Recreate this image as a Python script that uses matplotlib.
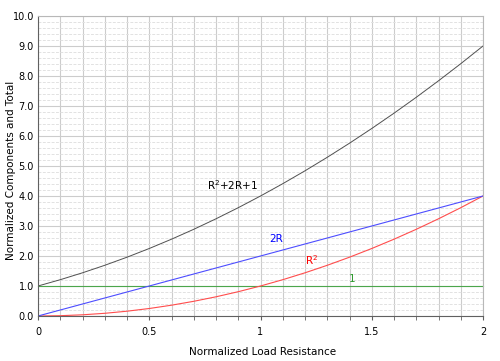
import matplotlib
matplotlib.use("Agg")
import matplotlib.pyplot as plt
from matplotlib.ticker import MultipleLocator, FixedLocator

R = [0.0, 0.1, 0.2, 0.3, 0.4, 0.5, 0.6, 0.7, 0.8, 0.9, 1.0,
     1.1, 1.2, 1.3, 1.4, 1.5, 1.6, 1.7, 1.8, 1.9, 2.0]
total = [1.0, 1.21, 1.44, 1.69, 1.96, 2.25, 2.56, 2.89, 3.24, 3.61, 4.0,
         4.41, 4.84, 5.29, 5.76, 6.25, 6.76, 7.29, 7.84, 8.41, 9.0]
two_r = [0.0, 0.2, 0.4, 0.6, 0.8, 1.0, 1.2, 1.4, 1.6, 1.8, 2.0,
         2.2, 2.4, 2.6, 2.8, 3.0, 3.2, 3.4, 3.6, 3.8, 4.0]
r_sq = [0.0, 0.01, 0.04, 0.09, 0.16, 0.25, 0.36, 0.49, 0.64, 0.81, 1.0,
        1.21, 1.44, 1.69, 1.96, 2.25, 2.56, 2.89, 3.24, 3.61, 4.0]
one = [1.0] * len(R)

x_ticks = [0, 0.5, 1, 1.5, 2]
x_tick_labels = ["0", "0.5", "1", "1.5", "2"]
y_ticks = [0, 1, 2, 3, 4, 5, 6, 7, 8, 9, 10]
y_tick_labels = ["0.0", "1.0", "2.0", "3.0", "4.0", "5.0", "6.0", "7.0", "8.0", "9.0", "10.0"]

plt.rcParams['font.family'] = ['DejaVu Sans']
fig = plt.figure(figsize=(5.0, 3.61), dpi=100)
ax = fig.add_axes([38/500, 45/361, 445/500, 300/361])

ax.set_xlim(0, 2)
ax.set_ylim(0, 10)

ax.xaxis.set_major_locator(FixedLocator(x_ticks))
ax.set_xticklabels(x_tick_labels)
ax.yaxis.set_major_locator(FixedLocator(y_ticks))
ax.set_yticklabels(y_tick_labels)
ax.xaxis.set_minor_locator(MultipleLocator(0.1))
ax.yaxis.set_minor_locator(MultipleLocator(0.2))

ax.grid(which='major', color='#cccccc', linewidth=0.8, linestyle='-')
ax.xaxis.grid(which='minor', color='#cccccc', linewidth=0.8, linestyle='-')
ax.yaxis.grid(which='minor', color='#e2e2e2', linewidth=0.7, linestyle=(0, (3, 1.5)))
ax.set_axisbelow(True)

ax.tick_params(axis='x', which='both', direction='out', length=3, color='#606060',
               labelsize=7, pad=5)
ax.tick_params(axis='y', which='both', length=0, labelsize=7, pad=3)

for s in ['top', 'right']:
    ax.spines[s].set_color('#b8b8b8')
for s in ['left', 'bottom']:
    ax.spines[s].set_color('#606060')

ax.plot(R, one, color='#4ca64c', linewidth=0.8, clip_on=False)
ax.plot(R, r_sq, color='#ff4d4d', linewidth=0.8)
ax.plot(R, two_r, color='#4d4dff', linewidth=0.8)
ax.plot(R, total, color='#505050', linewidth=0.7)

ax.text(0.76, 4.37, "R$^{2}$+2R+1", color='black', fontsize=7.5, va='center', ha='left')
ax.text(1.07, 2.57, "2R", color='blue', fontsize=7.5, va='center', ha='center')
ax.text(1.23, 1.85, "R$^{2}$", color='red', fontsize=7.5, va='center', ha='center')
ax.text(1.41, 1.25, "1", color='#2e9a2e', fontsize=7.5, va='center', ha='center')

fig.text(263/500, 1 - 352/361, "Normalized Load Resistance", fontsize=7.5,
         ha='center', va='center')
fig.text(11/500, 1 - 170/361, "Normalized Components and Total", fontsize=7.5,
         ha='center', va='center', rotation=90)

fig.savefig("out.png", dpi=100)
